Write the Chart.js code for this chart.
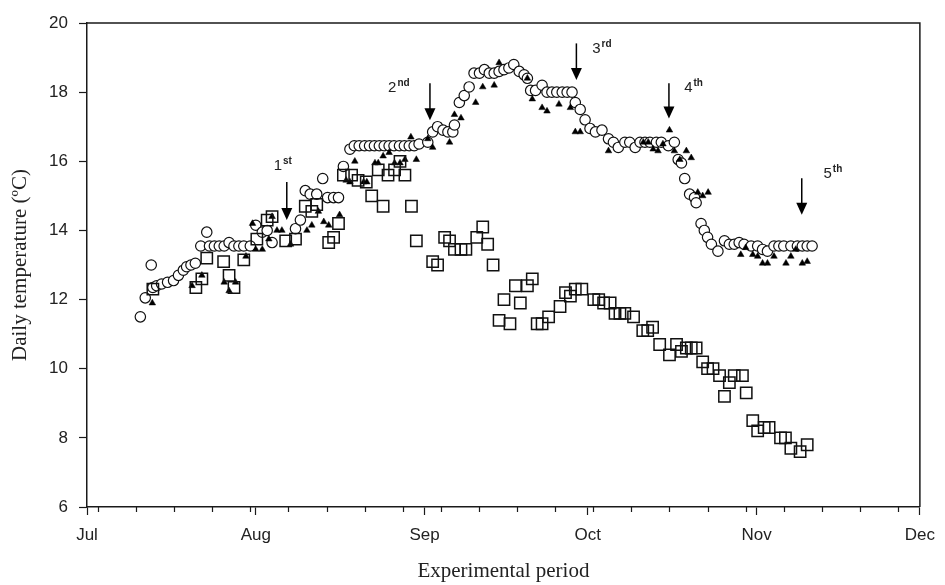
<!DOCTYPE html>
<html>
<head>
<meta charset="utf-8">
<script src="https://cdn.jsdelivr.net/npm/chart.js@4/dist/chart.umd.min.js"></script>
<style>
html,body{margin:0;padding:0;background:#fff;}
#wrap{width:945px;height:585px;}
</style>
</head>
<body>
<div id="wrap"><canvas id="c" width="945" height="585"></canvas></div>
<script>
// x values are days counted from 1 July (0 = Jul 1)
const monthStarts = [0, 31, 62, 92, 123, 153];
const monthLabels = ['Jul', 'Aug', 'Sep', 'Oct', 'Nov', 'Dec'];
const weekTicks = [2, 9, 16, 23, 30, 37, 44, 51, 58, 65, 72, 79, 86, 93, 100, 107, 114, 121, 128, 135, 142, 149];
const yTicks = [6, 8, 10, 12, 14, 16, 18, 20];

// open circles
const circleDays = [9.8,10.7,11.8,12.1,12.8,13.7,14.8,15.9,16.8,17.7,18.3,19.1,19.9,20.9,22.0,22.5,23.4,24.3,25.2,26.1,27.0,27.9,28.8,30.0,31.0,32.2,33.1,34.0,38.3,39.2,40.1,41.0,42.2,43.3,44.2,45.3,46.2,47.1,48.3,49.1,50.0,51.0,51.9,52.8,53.7,54.6,55.5,56.4,57.4,58.3,59.2,60.1,61.0,62.6,63.5,64.4,65.4,66.3,67.2,67.5,68.4,69.3,70.2,71.1,72.1,73.0,73.9,74.8,75.7,76.6,77.5,78.4,79.4,80.3,80.9,81.5,82.4,83.6,84.5,85.4,86.3,87.3,88.2,89.1,89.7,90.6,91.5,92.4,93.4,94.6,95.8,96.7,97.6,98.8,99.7,100.7,101.6,102.5,103.4,104.6,105.5,106.8,107.9,108.6,109.2,109.8,110.7,111.6,111.9,112.8,113.4,114.0,114.7,115.9,117.1,118.0,118.9,119.8,120.7,122.0,123.2,124.1,125.0,126.2,127.1,128.0,129.3,130.5,131.4,132.3,133.2];
const circleTemps = [11.5,12.05,13.0,12.35,12.4,12.45,12.5,12.55,12.7,12.85,12.95,13.0,13.05,13.55,13.95,13.55,13.55,13.55,13.55,13.65,13.55,13.55,13.55,13.55,14.15,13.95,14.0,13.65,14.05,14.3,15.15,15.05,15.05,15.5,14.95,14.95,14.95,15.85,16.35,16.45,16.45,16.45,16.45,16.45,16.45,16.45,16.45,16.45,16.45,16.45,16.45,16.45,16.5,16.55,16.85,17.0,16.9,16.85,16.85,17.05,17.7,17.9,18.15,18.55,18.55,18.65,18.55,18.55,18.6,18.65,18.7,18.8,18.6,18.5,18.4,18.05,18.05,18.2,18.0,18.0,18.0,18.0,18.0,18.0,17.7,17.5,17.2,16.95,16.85,16.9,16.65,16.55,16.4,16.55,16.55,16.4,16.55,16.55,16.55,16.55,16.55,16.45,16.55,16.05,15.95,15.5,15.05,14.95,14.8,14.2,14.0,13.8,13.6,13.4,13.7,13.6,13.6,13.65,13.6,13.55,13.55,13.45,13.4,13.55,13.55,13.55,13.55,13.55,13.55,13.55,13.55];

// filled triangles
const triangleDays = [12.0,19.3,21.1,25.2,26.1,27.3,29.2,30.4,31.0,32.2,33.4,34.0,34.9,35.8,37.4,40.4,41.3,42.5,43.5,44.4,46.4,47.6,48.3,49.2,50.8,51.4,52.9,53.5,54.4,55.5,56.5,57.5,58.4,59.5,60.5,62.6,63.5,66.6,67.5,68.7,71.4,72.7,74.8,75.7,80.9,81.8,83.6,84.5,86.7,88.8,89.7,90.6,95.8,102.2,103.1,104.0,104.9,105.8,107.0,107.9,108.9,110.1,111.0,112.2,113.1,114.1,120.1,121.0,122.3,123.2,124.1,125.0,126.2,128.4,129.3,130.2,131.4,132.3];
const triangleTemps = [11.9,12.4,12.7,12.5,12.25,12.5,13.25,14.2,13.45,13.45,13.75,14.4,14.0,14.0,13.6,14.0,14.15,14.55,14.25,14.15,14.45,15.45,15.4,16.0,15.4,15.4,15.95,15.95,16.15,16.25,15.95,15.95,16.05,16.7,16.05,16.65,16.4,16.55,17.35,17.25,17.7,18.15,18.2,18.85,18.4,17.8,17.55,17.45,17.65,17.55,16.85,16.85,16.3,16.55,16.55,16.35,16.3,16.5,16.9,16.3,16.05,16.3,16.1,15.1,15.0,15.1,13.3,13.5,13.3,13.25,13.05,13.05,13.25,13.05,13.25,13.45,13.05,13.1];

// open squares
const squareDays = [12.1,20.0,21.1,22.0,25.1,26.1,27.0,28.8,31.2,33.1,34.0,36.5,38.3,40.1,41.3,42.2,44.4,45.3,46.2,47.1,48.6,49.8,51.3,52.3,53.5,54.4,55.3,56.5,57.5,58.4,59.6,60.5,63.5,64.4,65.7,66.6,67.5,68.7,69.6,71.6,72.7,73.6,74.6,75.7,76.6,77.7,78.7,79.6,80.9,81.8,82.7,83.6,84.8,86.9,87.9,88.8,89.7,90.9,93.1,94.0,94.9,96.1,97.0,97.9,98.8,100.4,102.1,103.0,103.9,105.2,107.0,108.3,109.2,110.1,111.0,111.9,113.1,114.0,115.0,116.2,117.1,118.0,118.9,120.4,121.1,122.3,123.2,124.4,125.3,127.4,128.3,129.3,131.0,132.3];
const squareTemps = [12.3,12.35,12.6,13.2,13.1,12.7,12.35,13.15,13.75,14.3,14.4,13.7,13.75,14.7,14.55,14.75,13.65,13.8,14.2,15.6,15.6,15.45,15.4,15.0,15.75,14.7,15.6,15.75,16.0,15.6,14.7,13.7,13.1,13.0,13.8,13.7,13.45,13.45,13.45,13.8,14.1,13.6,13.0,11.4,12.0,11.3,12.4,11.9,12.4,12.6,11.3,11.3,11.5,11.8,12.2,12.1,12.3,12.3,12.0,12.0,11.9,11.9,11.6,11.6,11.6,11.5,11.1,11.1,11.2,10.7,10.4,10.7,10.5,10.6,10.6,10.6,10.2,10.0,10.0,9.8,9.2,9.6,9.8,9.8,9.3,8.5,8.2,8.3,8.3,8.0,8.0,7.7,7.6,7.8];

// arrows marking the five events
const arrowDays = [36.7, 63.0, 89.9, 106.9, 131.3];
const arrowFrom = [15.4, 18.26, 19.41, 18.26, 15.51];
const arrowTo = [14.3, 17.19, 18.35, 17.24, 14.45];
const arrowNumbers = ['1', '2', '3', '4', '5'];
const arrowSuffixes = ['st', 'nd', 'rd', 'th', 'th'];
const labelDays = [34.3, 55.3, 92.8, 109.7, 135.3];
const labelTemps = [15.75, 18.0, 19.13, 18.0, 15.52];

const toPts = (xs, ys) => xs.map((x, i) => ({x: x, y: ys[i]}));

const decor = {
  id: 'decor',
  afterDraw(chart) {
    const {ctx, chartArea: a, scales: {x, y}} = chart;
    ctx.save();
    ctx.strokeStyle = '#1a1a1a';
    ctx.lineWidth = 1.5;
    ctx.beginPath();
    ctx.moveTo(a.left, a.top);
    ctx.lineTo(a.right, a.top);
    ctx.lineTo(a.right, a.bottom);
    ctx.stroke();
    // weekly minor ticks
    ctx.lineWidth = 1.2;
    ctx.beginPath();
    weekTicks.forEach(d => {
      const px = Math.round(x.getPixelForValue(d)) + 0.5;
      ctx.moveTo(px, a.bottom);
      ctx.lineTo(px, a.bottom + 5);
    });
    ctx.stroke();
    // arrows
    ctx.fillStyle = '#000';
    ctx.strokeStyle = '#000';
    arrowDays.forEach((d, i) => {
      const px = x.getPixelForValue(d);
      const y0 = y.getPixelForValue(arrowFrom[i]);
      const y1 = y.getPixelForValue(arrowTo[i]);
      ctx.lineWidth = 1.5;
      ctx.beginPath();
      ctx.moveTo(px, y0);
      ctx.lineTo(px, y1 - 10);
      ctx.stroke();
      ctx.beginPath();
      ctx.moveTo(px - 5.5, y1 - 12);
      ctx.lineTo(px + 5.5, y1 - 12);
      ctx.lineTo(px, y1);
      ctx.closePath();
      ctx.fill();
      const lx = x.getPixelForValue(labelDays[i]);
      const ly = y.getPixelForValue(labelTemps[i]);
      ctx.textAlign = 'left';
      ctx.textBaseline = 'alphabetic';
      ctx.font = '15px "Liberation Sans", Arial, sans-serif';
      ctx.fillStyle = '#222';
      ctx.fillText(arrowNumbers[i], lx, ly);
      const w = ctx.measureText(arrowNumbers[i]).width;
      ctx.font = 'bold 10px "Liberation Sans", Arial, sans-serif';
      ctx.fillText(arrowSuffixes[i], lx + w + 1, ly - 6);
      ctx.fillStyle = '#000';
    });
    ctx.restore();
  }
};

new Chart(document.getElementById('c'), {
  type: 'scatter',
  data: {
    datasets: [
      {
        label: 'squares',
        data: toPts(squareDays, squareTemps),
        pointStyle: 'rect',
        pointRadius: 8,
        backgroundColor: 'rgba(0,0,0,0)',
        borderColor: '#111',
        borderWidth: 1.5,
        order: 1
      },
      {
        label: 'triangles',
        data: toPts(triangleDays, triangleTemps),
        pointStyle: 'triangle',
        pointRadius: 3.8,
        backgroundColor: '#000',
        borderColor: '#000',
        borderWidth: 0.5,
        order: 2
      },
      {
        label: 'circles',
        data: toPts(circleDays, circleTemps),
        pointStyle: 'circle',
        pointRadius: 5.2,
        backgroundColor: '#fff',
        borderColor: '#111',
        borderWidth: 1.2,
        order: 3
      }
    ]
  },
  options: {
    responsive: false,
    animation: false,
    events: [],
    layout: {padding: {top: 23, right: 20, left: 0, bottom: 0}},
    plugins: {legend: {display: false}, tooltip: {enabled: false}},
    scales: {
      x: {
        type: 'linear',
        min: 0,
        max: 153,
        afterBuildTicks(scale) {
          scale.ticks = monthStarts.map(v => ({value: v}));
        },
        afterFit(scale) { scale.height = 78; },
        ticks: {
          autoSkip: false,
          maxRotation: 0,
          padding: 10,
          color: '#222',
          font: {family: '"Liberation Sans", Arial, sans-serif', size: 17},
          callback: (v) => monthLabels[monthStarts.indexOf(v)]
        },
        grid: {drawOnChartArea: false, drawTicks: true, tickLength: 8, tickColor: '#1a1a1a', tickWidth: 1.2},
        border: {color: '#1a1a1a', width: 1.5},
        title: {
          display: true,
          text: 'Experimental period',
          color: '#222',
          font: {family: '"Liberation Serif", "Times New Roman", serif', size: 21},
          padding: {top: 0, bottom: 1}
        }
      },
      y: {
        min: 6,
        max: 20,
        afterBuildTicks(scale) {
          scale.ticks = yTicks.map(v => ({value: v}));
        },
        afterFit(scale) { scale.width = 87; },
        ticks: {
          padding: 11,
          color: '#222',
          font: {family: '"Liberation Sans", Arial, sans-serif', size: 17}
        },
        grid: {drawOnChartArea: false, drawTicks: true, tickLength: 8, tickColor: '#1a1a1a', tickWidth: 1.2},
        border: {color: '#1a1a1a', width: 1.5},
        title: {
          display: true,
          text: 'Daily temperature (\u00BAC)',
          color: '#222',
          font: {family: '"Liberation Serif", "Times New Roman", serif', size: 21},
          padding: {top: 8, bottom: 0}
        }
      }
    }
  },
  plugins: [decor]
});
</script>
</body>
</html>
